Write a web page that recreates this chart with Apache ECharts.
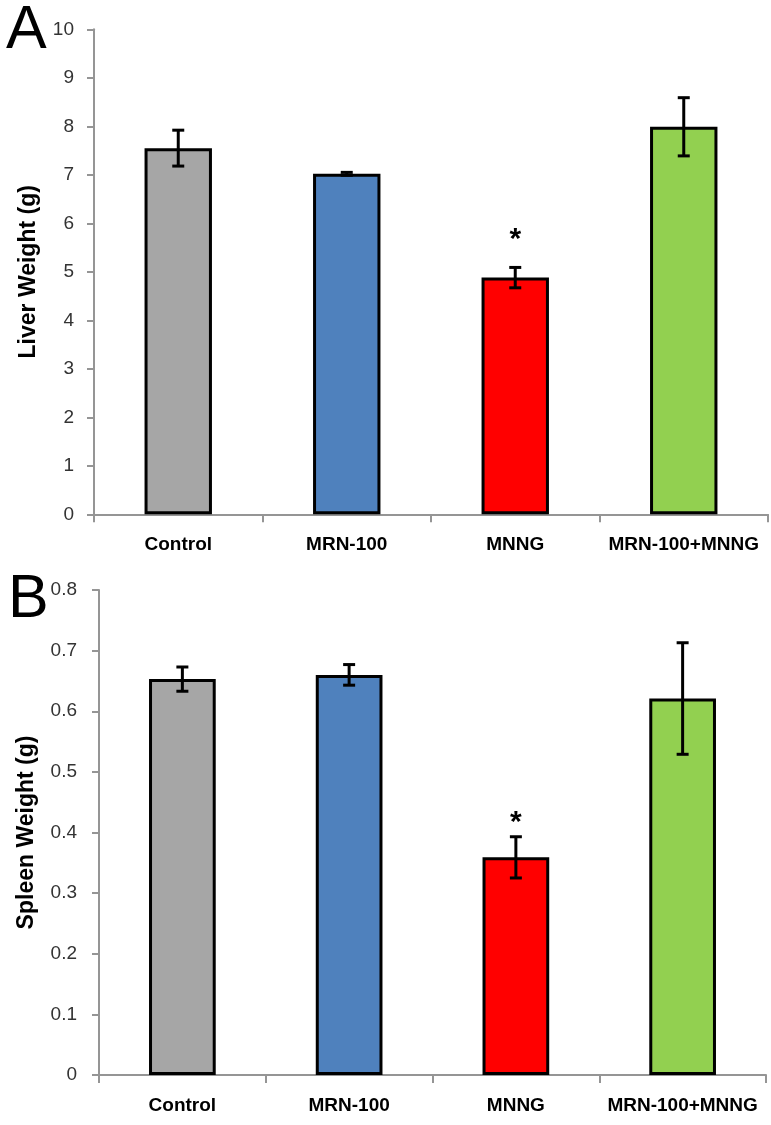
<!DOCTYPE html>
<html><head><meta charset="utf-8">
<script src="https://cdn.jsdelivr.net/npm/echarts@6/dist/echarts.min.js"></script>
<style>html,body{margin:0;padding:0;background:#fff}#c{width:771px;height:1125px}</style>
</head><body><div id="c"></div>
<script>
const categories = ['Control', 'MRN-100', 'MNNG', 'MRN-100+MNNG'];
const colors = ['#A6A6A6', '#4F81BD', '#FF0000', '#92D050'];
const liverMean = [7.55, 7.02, 4.88, 7.99];
const liverErr = [0.37, 0.03, 0.21, 0.60];
const liverStar = [null, null, 5.79, null];
const spleenMean = [0.653, 0.660, 0.359, 0.621];
const spleenErr = [0.020, 0.017, 0.034, 0.092];
const spleenStar = [null, null, 0.426, null];
const liverTicks = [0, 10, 1];
const spleenTicks = [0, 0.8, 0.1];

const chart = echarts.init(document.getElementById('c'), null, {renderer: 'canvas'});
const axisGray = '#959595';
const labelFont = 'Liberation Sans, sans-serif';

function yAx(idx, t, name, gap, margin) {
  return {
    type: 'value', gridIndex: idx, min: t[0], max: t[1], interval: t[2],
    name: name, nameLocation: 'middle', nameGap: gap, nameRotate: 90,
    nameTextStyle: {fontFamily: 'Liberation Sans', fontWeight: 'bold', fontSize: 23, color: '#000'},
    axisLine: {show: true, lineStyle: {color: axisGray, width: 2}},
    axisTick: {show: true, length: 7, lineStyle: {color: axisGray, width: 2}},
    splitLine: {show: false},
    axisLabel: {fontFamily: labelFont, fontSize: 19, color: '#333', margin: margin}
  };
}
function xAx(idx) {
  return {
    type: 'category', gridIndex: idx, data: categories,
    axisLine: {lineStyle: {color: axisGray, width: 2}},
    axisTick: {show: true, length: 8, lineStyle: {color: axisGray, width: 2}},
    axisLabel: {fontFamily: labelFont, fontWeight: 'bold', fontSize: 19, color: '#000', margin: 21, interval: 0}
  };
}
function barSeries(idx, mean) {
  return {
    type: 'bar', xAxisIndex: idx, yAxisIndex: idx, barWidth: '40%',
    data: mean.map((v, i) => ({value: v, itemStyle: {color: colors[i]}})),
    itemStyle: {borderColor: '#000', borderWidth: 3},
    silent: true
  };
}
function errSeries(idx, mean, err) {
  return {
    type: 'custom', xAxisIndex: idx, yAxisIndex: idx, z: 10,
    data: mean.map((v, i) => [i, v + err[i], v - err[i]]),
    encode: {x: 0, y: [1, 2]},
    renderItem: function (params, api) {
      const hi = api.coord([api.value(0), api.value(1)]);
      const lo = api.coord([api.value(0), api.value(2)]);
      const hw = 6;
      const st = {stroke: '#000', lineWidth: 3};
      return {type: 'group', children: [
        {type: 'line', shape: {x1: hi[0], y1: hi[1], x2: lo[0], y2: lo[1]}, style: st},
        {type: 'line', shape: {x1: hi[0] - hw, y1: hi[1], x2: hi[0] + hw, y2: hi[1]}, style: st},
        {type: 'line', shape: {x1: lo[0] - hw, y1: lo[1], x2: lo[0] + hw, y2: lo[1]}, style: st}
      ]};
    }
  };
}
function starSeries(idx, stars) {
  return {
    type: 'custom', xAxisIndex: idx, yAxisIndex: idx, z: 11,
    data: stars.map((v, i) => [i, v]).filter(d => d[1] !== null),
    encode: {x: 0, y: 1},
    renderItem: function (params, api) {
      const p = api.coord([api.value(0), api.value(1)]);
      return {type: 'text', x: p[0], y: p[1] + 6, style: {text: '*', fill: '#000',
        font: 'bold 30px Liberation Sans, sans-serif', align: 'center', verticalAlign: 'middle'}};
    }
  };
}

chart.setOption({
  animation: false,
  backgroundColor: '#fff',
  grid: [
    {left: 94, right: 3, top: 29.3, height: 485},
    {left: 99, right: 5, top: 590, height: 485}
  ],
  xAxis: [xAx(0), xAx(1)],
  yAxis: [yAx(0, liverTicks, 'Liver Weight (g)', 54, 20), yAx(1, spleenTicks, 'Spleen Weight (g)', 61, 22)],
  graphic: [
    {type: 'text', left: 6, top: 1, style: {text: 'A', font: '61px Liberation Sans, sans-serif', fill: '#000'}},
    {type: 'text', left: 8, top: 570, style: {text: 'B', font: '61px Liberation Sans, sans-serif', fill: '#000'}}
  ],
  series: [
    barSeries(0, liverMean), errSeries(0, liverMean, liverErr), starSeries(0, liverStar),
    barSeries(1, spleenMean), errSeries(1, spleenMean, spleenErr), starSeries(1, spleenStar)
  ]
});
</script></body></html>
